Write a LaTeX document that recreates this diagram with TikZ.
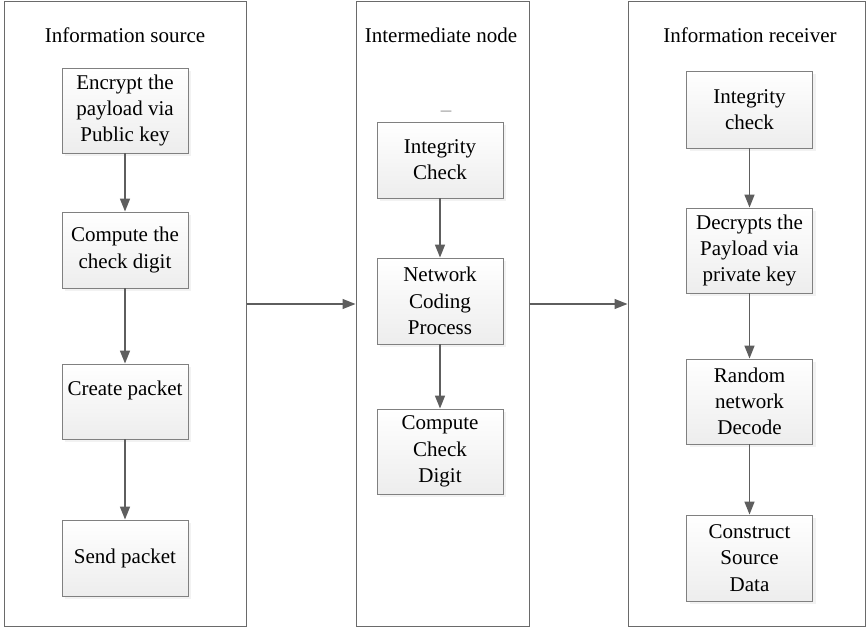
\documentclass[tikz,border=0pt]{standalone}
\usepackage{fontspec}
\setmainfont{Liberation Serif}
\usetikzlibrary{arrows.meta,shadows}

\definecolor{panelgray}{HTML}{6A6A6A}
\definecolor{boxgray}{HTML}{808080}
\definecolor{arrowgray}{HTML}{5E5E5E}
\definecolor{dashgray}{HTML}{9A9A9A}

\begin{document}
\begin{tikzpicture}[x=1pt,y=-1pt,
  panel/.style={draw=panelgray, line width=1pt, fill=white,
    minimum width=#1, minimum height=624pt, inner sep=0pt},
  stepbox/.style={draw=boxgray, line width=0.9pt, top color=white, bottom color=black!7,
    minimum width=126pt, minimum height=#1, inner sep=0pt, align=center,
    font=\fontsize{21}{26.3}\selectfont,
    drop shadow={opacity=0.10, shadow xshift=3pt, shadow yshift=-3pt}},
  title/.style={anchor=base, font=\fontsize{21}{26}\selectfont},
  arr/.style={draw=arrowgray, line width=1.4pt,
    -{Triangle[length=13pt,width=10pt]}, fill=arrowgray}
]
\useasboundingbox (0,0) rectangle (868,628);

% three stages
\node[panel=242pt] (src) at (125,314) {};
\node[panel=173pt] (mid) at (442.5,314) {};
\node[panel=237pt] (rcv) at (746.5,314) {};

\node[title] (tsrc) at (125,43) {Information source};
\node[title] (tmid) at (441,43) {Intermediate node};
\node[title] (trcv) at (750,43) {Information receiver};

% source steps
\node[stepbox=85pt] (s1) at (125,110.5) {Encrypt the\\payload via\\Public key};
\node[stepbox=76pt] (s2) at (125,250) {Compute the\\check digit};
\node[stepbox=75pt] (s3) at (125,401.5) {Create packet\\\mbox{}};
\node[stepbox=76pt] (s4) at (125,558) {Send packet};

% intermediate steps
\node[anchor=base, text=dashgray, font=\fontsize{21}{26}\selectfont] (dash) at (446,117) {–};
\node[stepbox=76pt] (m1) at (440,160) {Integrity\\Check};
\node[stepbox=86pt] (m2) at (440,301) {Network\\Coding\\Process};
\node[stepbox=85pt] (m3) at (440,451.5) {Compute\\Check\\Digit};

% receiver steps
\node[stepbox=77pt] (r1) at (749.5,109.5) {Integrity\\check};
\node[stepbox=85pt] (r2) at (749.5,250.5) {Decrypts the\\Payload via\\private key};
\node[stepbox=85pt] (r3) at (749.5,401.5) {Random\\network\\Decode};
\node[stepbox=86pt] (r4) at (749.5,558) {Construct\\Source\\Data};

% flows
\draw[arr] (s1) -- (s2);
\draw[arr] (s2) -- (s3);
\draw[arr] (s3) -- (s4);
\draw[arr] (m1) -- (m2);
\draw[arr] (m2) -- (m3);
\draw[arr] (r1) -- (r2);
\draw[arr] (r2) -- (r3);
\draw[arr] (r3) -- (r4);
\draw[arr] ([yshift=10pt]src.east) -- ([yshift=10pt]mid.west);
\draw[arr] ([yshift=10pt]mid.east) -- ([yshift=10pt]rcv.west);
\end{tikzpicture}
\end{document}
